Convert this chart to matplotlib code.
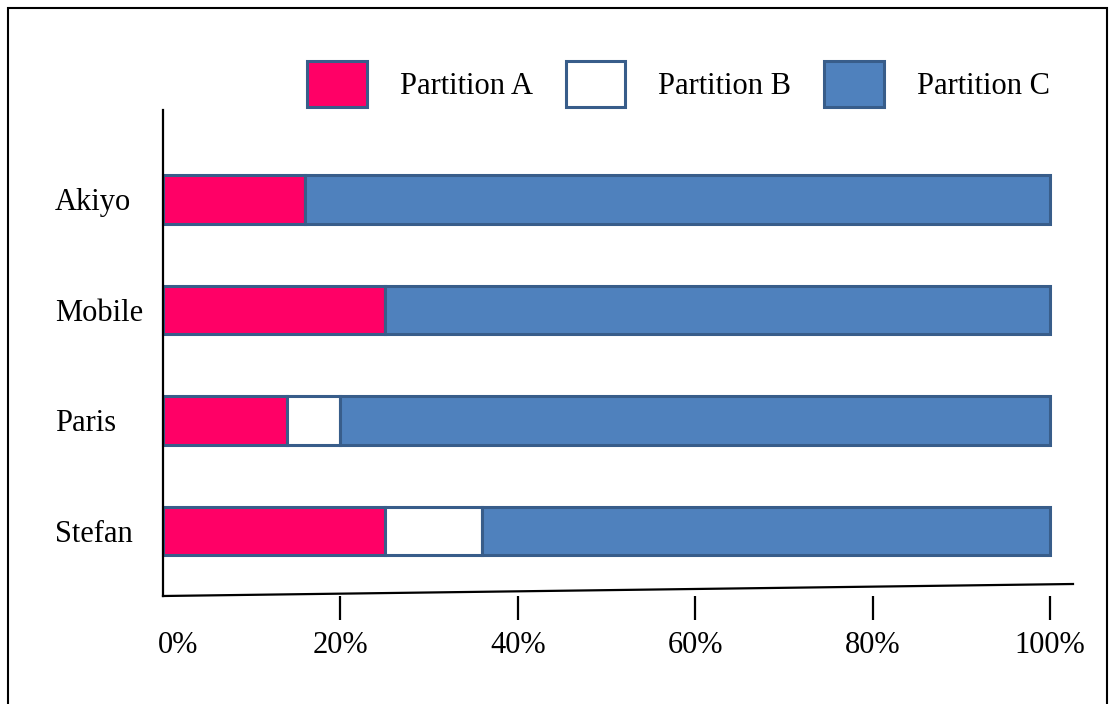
import matplotlib
matplotlib.use("Agg")
import matplotlib.pyplot as plt
import matplotlib.transforms as mtransforms
from matplotlib.patches import Rectangle
from matplotlib.lines import Line2D

# Share of each partition per sequence (percent)
sequences = ["Stefan", "Paris", "Mobile", "Akiyo"]
partition_a = [25, 14, 25, 16]
partition_b = [11, 6, 0, 0]
partition_c = [64, 80, 75, 84]
series_names = ["Partition A", "Partition B", "Partition C"]
x_ticks = [0, 20, 40, 60, 80, 100]
x_tick_labels = ["0%", "20%", "40%", "60%", "80%", "100%"]

colors = ["#FF0066", "#FFFFFF", "#4F81BD"]
edge = "#385D8A"

plt.rcParams["font.family"] = ["Liberation Serif", "DejaVu Serif"]

W, H = 1115, 704
fig = plt.figure(figsize=(W / 100, H / 100), dpi=100)
ax = fig.add_axes([163 / W, 1 - 596 / H, (1050 - 163) / W, (596 - 110) / H])

ypos = list(range(len(sequences)))
left = [0] * len(sequences)
handles = []
for vals, col, name in zip([partition_a, partition_b, partition_c], colors, series_names):
    bars = ax.barh(ypos, vals, left=left, height=0.44, color=col,
                   edgecolor=edge, linewidth=2.2, label=name)
    for b in bars:
        b.set_clip_on(False)
    handles.append(bars)
    left = [l + v for l, v in zip(left, vals)]

ax.set_xlim(0, 100)
ax.set_ylim(-0.59, 3.81)

# Axes styling
for s in ["top", "right", "bottom"]:
    ax.spines[s].set_visible(False)
ax.spines["left"].set_linewidth(1.6)
ax.spines["left"].set_color("black")

ax.set_yticks(ypos)
ax.set_yticklabels(sequences, fontsize=22, ha="left")
ax.tick_params(axis="y", length=0, pad=78)

ax.set_xticks(x_ticks)
ax.set_xticklabels(x_tick_labels, fontsize=22)
ax.tick_params(axis="x", length=17, width=1.6, pad=8, direction="out")
first = ax.xaxis.get_major_ticks()[0]
first.tick1line.set_visible(False)
# nudge the "0%" label clear of the vertical axis
first.label1.set_transform(first.label1.get_transform() +
                           mtransforms.ScaledTranslation(15 / 100, 0, fig.dpi_scale_trans))

# Slightly rising baseline
base = Line2D([0, (1073 - 163) / (1050 - 163)], [0, 12 / (596 - 110)],
              transform=ax.transAxes, color="black", linewidth=1.6, clip_on=False)
ax.add_line(base)

leg = fig.legend(handles=handles, labels=series_names, loc="upper left",
                 bbox_to_anchor=(307 / W, 1 - 61 / H), ncol=3, frameon=False,
                 fontsize=22, handlelength=1.95, handleheight=1.95,
                 handletextpad=1.08, columnspacing=1.08,
                 borderpad=0, borderaxespad=0)

# Frame around the whole figure
fig.add_artist(Rectangle((8 / W, -0.01), (1107 - 8) / W, 1.01 - 8 / H,
                         transform=fig.transFigure, fill=False,
                         edgecolor="black", linewidth=1.5))

fig.savefig("out.png", dpi=100)
